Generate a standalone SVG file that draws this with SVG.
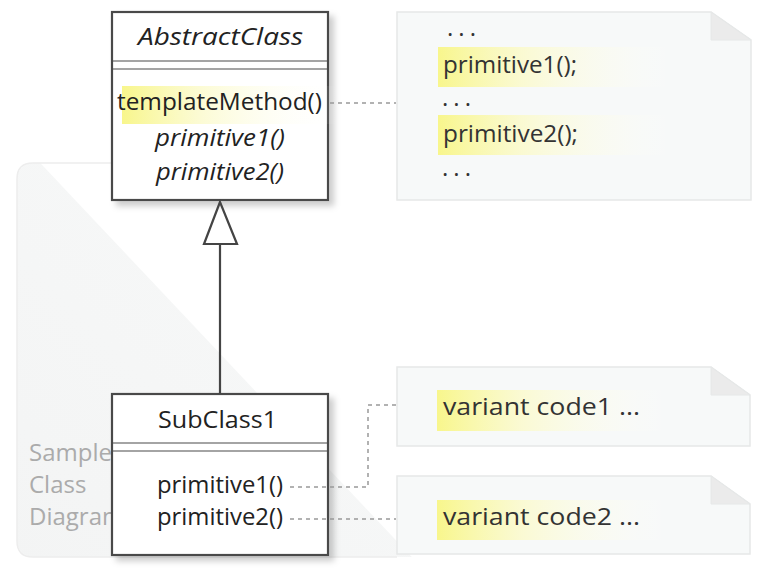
<svg xmlns="http://www.w3.org/2000/svg" width="768" height="571" viewBox="0 0 768 571">
<style>
  text { font-family: "Open Sans", "DejaVu Sans", sans-serif; font-size: 24px; fill: #222; }
  .it { font-style: italic; }
  .mid { text-anchor: middle; }
  .gray { fill: #ababab; }
  .box { fill: #fff; stroke: #4a4a4a; stroke-width: 2.2; }
  .sep { stroke: #4a4a4a; stroke-width: 1.2; fill: none; }
  .note { fill: #f7f9f9; stroke: #e6e8e8; stroke-width: 1.5; }
  .fold { fill: #ebebeb; stroke: #e6e8e8; stroke-width: 1; }
  .dash { fill: none; stroke: #999; stroke-width: 1.5; stroke-dasharray: 4 4; }
  .gen { fill: none; stroke: #444; stroke-width: 2.2; }
  .nt { fill: #333; }
</style>
<defs>
  <linearGradient id="hl" x1="0" y1="0" x2="1" y2="0">
    <stop offset="0" stop-color="#f8f68c"/>
    <stop offset="0.35" stop-color="#fbfac8" stop-opacity="0.8"/>
    <stop offset="1" stop-color="#ffffff" stop-opacity="0"/>
  </linearGradient>
  <linearGradient id="bg" x1="0" y1="1" x2="1" y2="0">
    <stop offset="0" stop-color="#f3f4f4"/>
    <stop offset="1" stop-color="#f8f9f9"/>
  </linearGradient>
  <clipPath id="frameClip">
    <rect x="17" y="163" width="740" height="394" rx="16"/>
  </clipPath>
  <filter id="sh" x="-10%" y="-10%" width="125%" height="125%">
    <feDropShadow dx="5" dy="5" stdDeviation="3" flood-color="#000" flood-opacity="0.2"/>
  </filter>
</defs>

<g id="frame">
  <polygon points="0,150 28,150 425,571 0,571" fill="url(#bg)" clip-path="url(#frameClip)"/>
  <path d="M 397 557 L 33 557 Q 17 557 17 541 L 17 179 Q 17 163 33 163 L 130 163" fill="none" stroke="#ededed" stroke-width="1.5"/>
  <text class="gray" x="29" y="461">Sample</text>
  <text class="gray" x="29" y="493">Class</text>
  <text class="gray" x="29" y="525">Diagram</text>
</g>

<g id="note1">
  <polygon class="note" points="397,12 711,12 751,40 751,200 397,200"/>
  <polygon class="fold" points="711,12 711,40 751,40"/>
  <rect x="438" y="47" width="239" height="40" fill="url(#hl)"/>
  <rect x="438" y="115" width="239" height="40" fill="url(#hl)"/>
  <text class="nt" x="447" y="36" textLength="29" lengthAdjust="spacing">...</text>
  <text class="nt" x="443" y="73" textLength="134" lengthAdjust="spacingAndGlyphs">primitive1();</text>
  <text class="nt" x="442" y="106" textLength="29" lengthAdjust="spacing">...</text>
  <text class="nt" x="443" y="142" textLength="135" lengthAdjust="spacingAndGlyphs">primitive2();</text>
  <text class="nt" x="442" y="176" textLength="29" lengthAdjust="spacing">...</text>
</g>

<g id="note2">
  <polygon class="note" points="397,367 711,367 750,395 750,446 397,446"/>
  <polygon class="fold" points="711,367 711,395 750,395"/>
  <rect x="437" y="390" width="236" height="41" fill="url(#hl)"/>
  <text class="nt" x="443" y="415" textLength="197" lengthAdjust="spacingAndGlyphs">variant code1 ...</text>
</g>

<g id="note3">
  <polygon class="note" points="397,476 711,476 750,504 750,554 397,554"/>
  <polygon class="fold" points="711,476 711,504 750,504"/>
  <rect x="437" y="500" width="236" height="40" fill="url(#hl)"/>
  <text class="nt" x="443" y="525" textLength="197" lengthAdjust="spacingAndGlyphs">variant code2 ...</text>
</g>

<g id="AbstractClass">
  <rect class="box" x="112" y="12" width="216" height="188" filter="url(#sh)"/>
  <line class="sep" x1="112" y1="61" x2="328" y2="61"/>
  <line class="sep" x1="112" y1="69" x2="328" y2="69"/>
  <rect x="122" y="86" width="218" height="38" fill="url(#hl)"/>
  <text class="it" x="138" y="45" textLength="165" lengthAdjust="spacingAndGlyphs">AbstractClass</text>
  <text x="117" y="110" textLength="205" lengthAdjust="spacingAndGlyphs">templateMethod()</text>
  <text class="it" x="155" y="146" textLength="130" lengthAdjust="spacingAndGlyphs">primitive1()</text>
  <text class="it" x="156" y="180" textLength="128" lengthAdjust="spacingAndGlyphs">primitive2()</text>
</g>

<g id="SubClass1">
  <rect class="box" x="112" y="394" width="216" height="161" filter="url(#sh)"/>
  <line class="sep" x1="112" y1="443" x2="328" y2="443"/>
  <line class="sep" x1="112" y1="451" x2="328" y2="451"/>
  <text x="158" y="428" textLength="119" lengthAdjust="spacingAndGlyphs">SubClass1</text>
  <text x="157" y="493" textLength="126" lengthAdjust="spacingAndGlyphs">primitive1()</text>
  <text x="157" y="525" textLength="126" lengthAdjust="spacingAndGlyphs">primitive2()</text>
</g>

<g id="connectors">
  <path class="dash" d="M 330 103 L 396 103"/>
  <path class="dash" d="M 290 487 L 368 487 L 368 405 L 396 405"/>
  <path class="dash" d="M 290 519 L 396 519"/>
  <line class="gen" x1="220" y1="394" x2="220" y2="244"/>
  <polygon class="gen" fill="#fff" points="220,202 204,244 237,244"/>
</g>
</svg>
